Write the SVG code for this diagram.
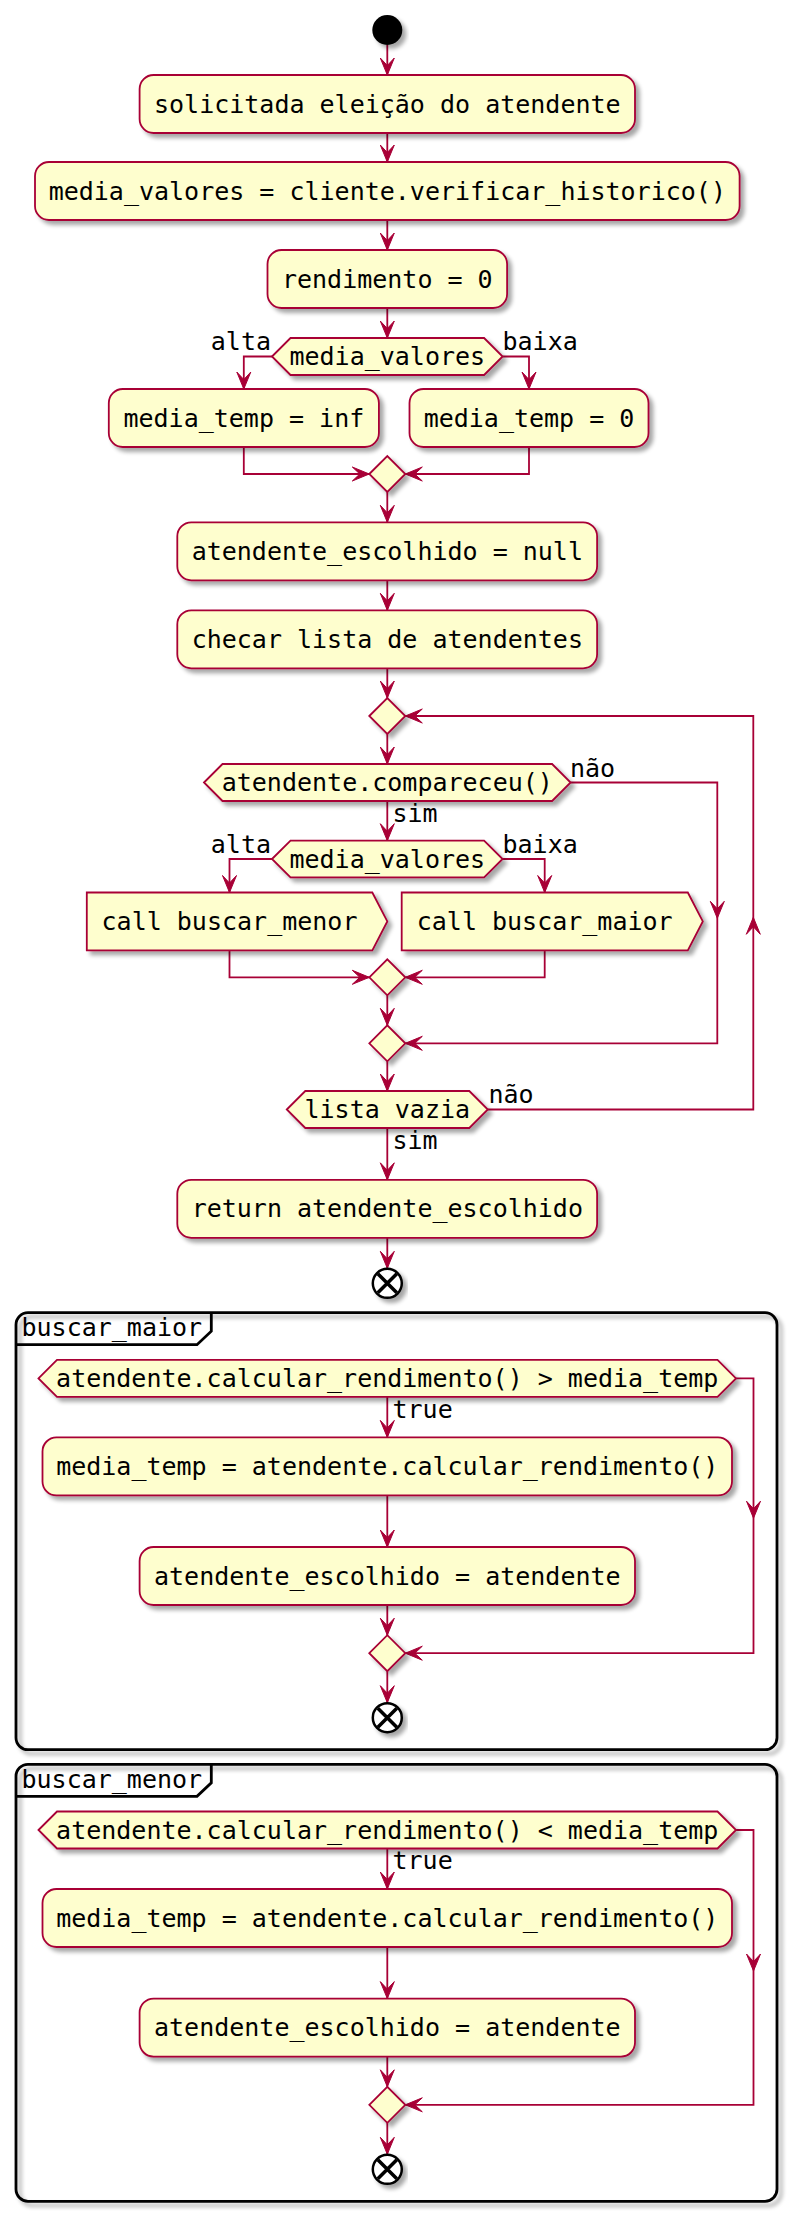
<svg xmlns="http://www.w3.org/2000/svg" xmlns:xlink="http://www.w3.org/1999/xlink" width="801" height="2225" viewBox="0 0 801 2225">
<defs>
<filter id="sh" x="-10%" y="-20%" width="130%" height="160%">
<feGaussianBlur in="SourceAlpha" stdDeviation="2"/>
<feOffset dx="4" dy="4" result="o"/>
<feComponentTransfer><feFuncA type="linear" slope="0.35"/></feComponentTransfer>
<feMerge><feMergeNode/><feMergeNode in="SourceGraphic"/></feMerge>
</filter>
<path id="ah" d="M0,0 L-7,-17 L0,-9.5 L7,-17 Z" fill="#A80036" stroke="#A80036" stroke-width="1" stroke-linejoin="miter"/>
</defs>
<style>
.n{fill:#FEFECE;stroke:#A80036;stroke-width:1.8;filter:url(#sh)}
.t{font-family:"DejaVu Sans Mono","Liberation Mono",monospace;font-size:25px;fill:#000}
.c{text-anchor:middle}
.r{text-anchor:end}
.e{fill:none;stroke:#A80036;stroke-width:1.8}
.f{fill:none;stroke:#000;stroke-width:2.8}
.fs{filter:url(#sh)}
.x{stroke:#000;stroke-width:3.5}
</style>
<rect width="801" height="2225" fill="#FFFFFF"/>

<g id="connectors">
<path class="e" d="M387.3,45 V75 M387.3,133 V162 M387.3,220 V250 M387.3,308 V338"/>
<path class="e" d="M272,356.5 H243.8 V389 M502.6,356.5 H529 V389"/>
<path class="e" d="M243.8,447 V474 H369.3 M529,447 V474 H405.3"/>
<path class="e" d="M387.3,492 V522.3 M387.3,580.3 V610.3 M387.3,668.3 V698 M387.3,734 V764 M387.3,801 V840.7"/>
<path class="e" d="M570.6,782.5 H717.3 V1043.3 H405.3"/>
<path class="e" d="M272,859 H229.5 V892.5 M502.6,859 H544.7 V892.5"/>
<path class="e" d="M229.5,950.3 V977.3 H369.3 M544.7,950.3 V977.3 H405.3"/>
<path class="e" d="M387.3,995.3 V1025.3 M387.3,1061.3 V1091 M387.3,1128 V1179.8 M387.3,1237.8 V1268.3"/>
<path class="e" d="M487.8,1109.5 H753.3 V716 H405.3"/>
<path class="e" d="M736,1378.4 H753.5 V1653.2 H405.3 M387.3,1396.9 V1437.4 M387.3,1495.4 V1547 M387.3,1605 V1635.2 M387.3,1671.2 V1702.7"/>
<path class="e" d="M736,1830 H753.5 V2104.8 H405.3 M387.3,1848.5 V1889 M387.3,1947 V1998.6 M387.3,2056.6 V2086.8 M387.3,2122.8 V2154.3"/>
<use xlink:href="#ah" href="#ah" transform="translate(387.3,75)"/>
<use xlink:href="#ah" href="#ah" transform="translate(387.3,162)"/>
<use xlink:href="#ah" href="#ah" transform="translate(387.3,250)"/>
<use xlink:href="#ah" href="#ah" transform="translate(387.3,338)"/>
<use xlink:href="#ah" href="#ah" transform="translate(243.8,389)"/>
<use xlink:href="#ah" href="#ah" transform="translate(529,389)"/>
<use xlink:href="#ah" href="#ah" transform="translate(369.3,474) rotate(-90)"/>
<use xlink:href="#ah" href="#ah" transform="translate(405.3,474) rotate(90)"/>
<use xlink:href="#ah" href="#ah" transform="translate(387.3,522.3)"/>
<use xlink:href="#ah" href="#ah" transform="translate(387.3,610.3)"/>
<use xlink:href="#ah" href="#ah" transform="translate(387.3,698)"/>
<use xlink:href="#ah" href="#ah" transform="translate(405.3,716) rotate(90)"/>
<use xlink:href="#ah" href="#ah" transform="translate(387.3,764)"/>
<use xlink:href="#ah" href="#ah" transform="translate(387.3,840.7)"/>
<use xlink:href="#ah" href="#ah" transform="translate(717.3,918.3)"/>
<use xlink:href="#ah" href="#ah" transform="translate(753.3,917.3) rotate(180)"/>
<use xlink:href="#ah" href="#ah" transform="translate(229.5,892.5)"/>
<use xlink:href="#ah" href="#ah" transform="translate(544.7,892.5)"/>
<use xlink:href="#ah" href="#ah" transform="translate(369.3,977.3) rotate(-90)"/>
<use xlink:href="#ah" href="#ah" transform="translate(405.3,977.3) rotate(90)"/>
<use xlink:href="#ah" href="#ah" transform="translate(387.3,1025.3)"/>
<use xlink:href="#ah" href="#ah" transform="translate(405.3,1043.3) rotate(90)"/>
<use xlink:href="#ah" href="#ah" transform="translate(387.3,1091)"/>
<use xlink:href="#ah" href="#ah" transform="translate(387.3,1179.8)"/>
<use xlink:href="#ah" href="#ah" transform="translate(387.3,1268.3)"/>
<use xlink:href="#ah" href="#ah" transform="translate(753.5,1518.2)"/>
<use xlink:href="#ah" href="#ah" transform="translate(405.3,1653.2) rotate(90)"/>
<use xlink:href="#ah" href="#ah" transform="translate(387.3,1437.4)"/>
<use xlink:href="#ah" href="#ah" transform="translate(387.3,1547)"/>
<use xlink:href="#ah" href="#ah" transform="translate(387.3,1635.2)"/>
<use xlink:href="#ah" href="#ah" transform="translate(387.3,1702.7)"/>
<use xlink:href="#ah" href="#ah" transform="translate(753.5,1971)"/>
<use xlink:href="#ah" href="#ah" transform="translate(405.3,2104.8) rotate(90)"/>
<use xlink:href="#ah" href="#ah" transform="translate(387.3,1889)"/>
<use xlink:href="#ah" href="#ah" transform="translate(387.3,1998.6)"/>
<use xlink:href="#ah" href="#ah" transform="translate(387.3,2086.8)"/>
<use xlink:href="#ah" href="#ah" transform="translate(387.3,2154.3)"/>
<text class="t r" x="271" y="350">alta</text>
<text class="t" x="502.5" y="350">baixa</text>
<text class="t" x="570" y="776.7">não</text>
<text class="t" x="392.5" y="821.7">sim</text>
<text class="t r" x="271" y="852.7">alta</text>
<text class="t" x="502.5" y="852.7">baixa</text>
<text class="t" x="488.5" y="1103.3">não</text>
<text class="t" x="392.5" y="1149">sim</text>
<text class="t" x="392.5" y="1417.5">true</text>
<text class="t" x="392.5" y="1869.3">true</text>
</g>

<g id="start"><circle cx="387.3" cy="30" r="15" fill="#000" class="fs"/></g>
<g id="n1"><rect class="n" x="139.6" y="75" width="495.4" height="58" rx="14"/><text class="t c" x="387.3" y="112.5">solicitada eleição do atendente</text></g>
<g id="n2"><rect class="n" x="35" y="162" width="704.6" height="58" rx="14"/><text class="t c" x="387.3" y="199.5">media_valores = cliente.verificar_historico()</text></g>
<g id="n3"><rect class="n" x="267.5" y="250" width="239.6" height="58" rx="14"/><text class="t c" x="387.3" y="287.5">rendimento = 0</text></g>
<g id="d1"><polygon class="n" points="272,356.5 290.5,338 484.1,338 502.6,356.5 484.1,375 290.5,375"/><text class="t c" x="387.3" y="365.2">media_valores</text></g>
<g id="n4"><rect class="n" x="108.8" y="389" width="270.1" height="58" rx="14"/><text class="t c" x="243.85" y="426.5">media_temp = inf</text></g>
<g id="n5"><rect class="n" x="409.5" y="389" width="239" height="58" rx="14"/><text class="t c" x="529" y="426.5">media_temp = 0</text></g>
<g id="m1"><polygon class="n" points="369.3,474 387.3,456 405.3,474 387.3,492"/></g>
<g id="n6"><rect class="n" x="177.3" y="522.3" width="419.8" height="58" rx="14"/><text class="t c" x="387.3" y="559.8">atendente_escolhido = null</text></g>
<g id="n7"><rect class="n" x="177.3" y="610.3" width="419.8" height="58" rx="14"/><text class="t c" x="387.3" y="647.8">checar lista de atendentes</text></g>
<g id="m2"><polygon class="n" points="369.3,716 387.3,698 405.3,716 387.3,734"/></g>
<g id="d2"><polygon class="n" points="204,782.5 222.5,764 552.1,764 570.6,782.5 552.1,801 222.5,801"/><text class="t c" x="387.3" y="791.2">atendente.compareceu()</text></g>
<g id="d3"><polygon class="n" points="272,859 290.5,840.7 484.1,840.7 502.6,859 484.1,877.3 290.5,877.3"/><text class="t c" x="387.3" y="867.7">media_valores</text></g>
<g id="n8"><polygon class="n" points="86.8,892.5 372.3,892.5 387.3,921.4 372.3,950.3 86.8,950.3"/><text class="t c" x="229.5" y="930">call buscar_menor</text></g>
<g id="n9"><polygon class="n" points="401.7,892.5 687.8,892.5 702.8,921.4 687.8,950.3 401.7,950.3"/><text class="t c" x="544.7" y="930">call buscar_maior</text></g>
<g id="m3"><polygon class="n" points="369.3,977.3 387.3,959.3 405.3,977.3 387.3,995.3"/></g>
<g id="m4"><polygon class="n" points="369.3,1043.3 387.3,1025.3 405.3,1043.3 387.3,1061.3"/></g>
<g id="d4"><polygon class="n" points="286.8,1109.5 305.3,1091 469.3,1091 487.8,1109.5 469.3,1128 305.3,1128"/><text class="t c" x="387.3" y="1118.2">lista vazia</text></g>
<g id="n10"><rect class="n" x="177.3" y="1179.8" width="419.8" height="58" rx="14"/><text class="t c" x="387.3" y="1217.3">return atendente_escolhido</text></g>
<g id="end1" class="fs"><circle cx="387.3" cy="1283.3" r="14.5" fill="#FFF" stroke="#000" stroke-width="2.5"/><path class="x" d="M377.8,1273.8 L396.8,1292.8 M396.8,1273.8 L377.8,1292.8"/></g>

<g id="frame_buscar_maior">
<rect class="f fs" x="16" y="1312.7" width="761" height="437" rx="12"/>
<path class="f" d="M16,1344.7 H197 L211.3,1331.2 V1312.7"/>
<text class="t" x="21.5" y="1336.2">buscar_maior</text>
</g>
<g id="f1d"><polygon class="n" points="38.5,1378.4 57,1359.9 717.5,1359.9 736,1378.4 717.5,1396.9 57,1396.9"/><text class="t c" x="387.25" y="1387.1">atendente.calcular_rendimento() &gt; media_temp</text></g>
<g id="f1a"><rect class="n" x="42.5" y="1437.4" width="689.5" height="58" rx="14"/><text class="t c" x="387.3" y="1474.9">media_temp = atendente.calcular_rendimento()</text></g>
<g id="f1b"><rect class="n" x="139.6" y="1547" width="495.4" height="58" rx="14"/><text class="t c" x="387.3" y="1584.5">atendente_escolhido = atendente</text></g>
<g id="f1m"><polygon class="n" points="369.3,1653.2 387.3,1635.2 405.3,1653.2 387.3,1671.2"/></g>
<g id="f1end" class="fs"><circle cx="387.3" cy="1717.7" r="14.5" fill="#FFF" stroke="#000" stroke-width="2.5"/><path class="x" d="M377.8,1708.2 L396.8,1727.2 M396.8,1708.2 L377.8,1727.2"/></g>

<g id="frame_buscar_menor">
<rect class="f fs" x="16" y="1764.3" width="761" height="437" rx="12"/>
<path class="f" d="M16,1796.3 H197 L211.3,1782.8 V1764.3"/>
<text class="t" x="21.5" y="1787.8">buscar_menor</text>
</g>
<g id="f2d"><polygon class="n" points="38.5,1830 57,1811.5 717.5,1811.5 736,1830 717.5,1848.5 57,1848.5"/><text class="t c" x="387.25" y="1838.7">atendente.calcular_rendimento() &lt; media_temp</text></g>
<g id="f2a"><rect class="n" x="42.5" y="1889" width="689.5" height="58" rx="14"/><text class="t c" x="387.3" y="1926.5">media_temp = atendente.calcular_rendimento()</text></g>
<g id="f2b"><rect class="n" x="139.6" y="1998.6" width="495.4" height="58" rx="14"/><text class="t c" x="387.3" y="2036.1">atendente_escolhido = atendente</text></g>
<g id="f2m"><polygon class="n" points="369.3,2104.8 387.3,2086.8 405.3,2104.8 387.3,2122.8"/></g>
<g id="f2end" class="fs"><circle cx="387.3" cy="2169.3" r="14.5" fill="#FFF" stroke="#000" stroke-width="2.5"/><path class="x" d="M377.8,2159.8 L396.8,2178.8 M396.8,2159.8 L377.8,2178.8"/></g>
</svg>
